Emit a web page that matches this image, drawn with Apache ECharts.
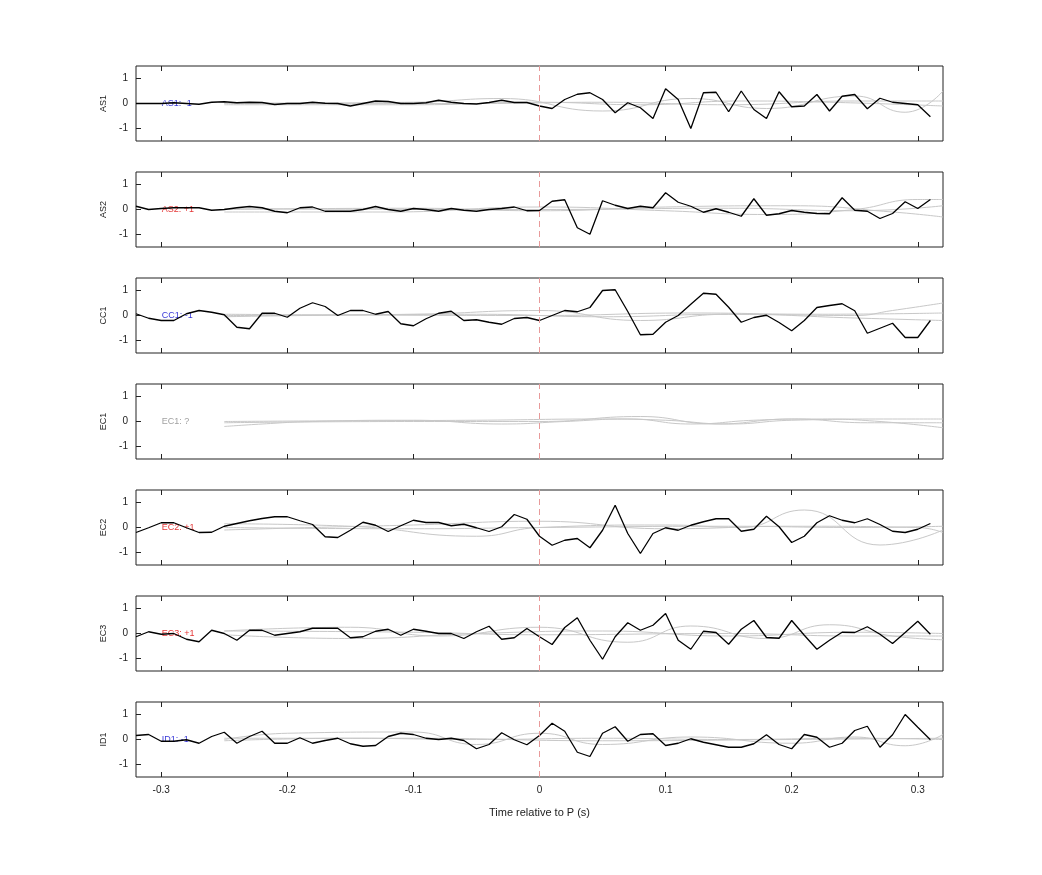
<!DOCTYPE html>
<html lang="en">
<head>
<meta charset="UTF-8" />
<script src="https://cdn.jsdelivr.net/npm/echarts@6.0.0/dist/echarts.min.js"></script>
<title>Stations</title>
<style>
  html, body { margin: 0; background: #fff; }
  #main { width: 1042px; height: 875px; }
</style>
</head>
<body>
<div id="main"></div>
<script>
// station names and polarity picks
var stations = ["AS1", "AS2", "CC1", "EC1", "EC2", "EC3", "ID1"];
var picks = ["AS1: -1", "AS2: +1", "CC1: -1", "EC1: ?", "EC2: +1", "EC3: +1", "ID1: -1"];
var pickColors = ["#0000cc", "#dd0000", "#0000cc", "#888888", "#dd0000", "#dd0000", "#0000cc"];

// sample times, -0.32 .. 0.31 s
var times = [];
for (var i = 0; i < 64; i++) times.push(+(-0.32 + i * 0.01).toFixed(2));

// black traces
var as1 = [0,0,0,0.03,0,-0.03,0.05,0.07,0.03,0.05,0.04,-0.04,0,0,0.05,0.01,0,-0.1,0,0.1,0.08,0,0,0.03,0.13,0.05,0,-0.02,0.04,0.13,0.04,0.04,
  -0.1,-0.2,0.16,0.37,0.43,0.16,-0.37,0.03,-0.17,-0.6,0.59,0.16,-1.0,0.43,0.45,-0.33,0.5,-0.24,-0.6,0.47,-0.13,-0.1,0.36,-0.3,0.29,0.36,-0.21,0.21,0.05,0,-0.05,-0.53];
var as2 = [0.13,0,0.04,0.07,0.07,0.07,-0.03,0,0.07,0.12,0.07,-0.07,-0.13,0.07,0.1,-0.07,-0.07,-0.07,0,0.12,0,-0.07,0.04,0,-0.07,0.04,-0.03,-0.07,0,0.04,0.1,-0.05,
  -0.04,0.33,0.39,-0.73,-0.99,0.35,0.17,0.04,0.13,0.07,0.67,0.29,0.13,-0.11,0.03,-0.11,-0.27,0.43,-0.23,-0.17,-0.04,-0.11,-0.16,-0.17,0.47,-0.03,-0.07,-0.36,-0.16,0.31,0.04,0.4];
var cc1 = [0.07,-0.11,-0.2,-0.2,0.07,0.2,0.13,0.03,-0.47,-0.53,0.09,0.09,-0.07,0.29,0.51,0.36,0,0.2,0.2,0.05,0.16,-0.33,-0.41,-0.13,0.09,0.17,-0.2,-0.17,-0.27,-0.35,-0.12,-0.08,
  -0.2,0,0.2,0.15,0.32,1.0,1.03,0.16,-0.77,-0.75,-0.27,0,0.45,0.89,0.85,0.33,-0.27,-0.08,0.01,-0.28,-0.61,-0.2,0.32,0.4,0.47,0.19,-0.71,-0.51,-0.31,-0.88,-0.88,-0.2];
var ec1 = null;
var ec2 = [-0.2,-0.01,0.19,0.19,-0.01,-0.2,-0.19,0.05,0.16,0.27,0.36,0.43,0.43,0.27,0.12,-0.37,-0.4,-0.11,0.21,0.09,-0.16,0.07,0.29,0.2,0.2,0.07,0.13,-0.01,-0.16,0.03,0.52,0.33,
  -0.35,-0.71,-0.51,-0.44,-0.81,-0.11,0.89,-0.24,-1.04,-0.24,-0.01,-0.11,0.09,0.23,0.35,0.35,-0.15,-0.07,0.45,0.03,-0.6,-0.35,0.19,0.47,0.29,0.19,0.35,0.12,-0.15,-0.2,-0.07,0.16];
var ec3 = [-0.13,0.07,-0.03,0,-0.23,-0.33,0.13,0,-0.27,0.13,0.13,-0.07,0,0.07,0.21,0.21,0.21,-0.17,-0.13,0.09,0.17,-0.07,0.17,0.09,0,0,-0.2,0.07,0.29,-0.23,-0.17,0.2,
  -0.13,-0.44,0.24,0.63,-0.27,-1.03,-0.13,0.43,0.13,0.33,0.8,-0.27,-0.63,0.09,0.04,-0.43,0.17,0.52,-0.16,-0.19,0.52,-0.07,-0.63,-0.27,0.05,0.04,0.27,-0.03,-0.4,0.04,0.49,-0.03];
var id1 = [0.16,0.2,-0.07,-0.07,-0.01,-0.15,0.12,0.29,-0.15,0.12,0.33,-0.15,-0.15,0.07,-0.15,-0.04,0.05,-0.17,-0.27,-0.24,0.12,0.25,0.2,0.05,0,0.05,-0.04,-0.37,-0.2,0.27,-0.01,-0.21,
  0.16,0.65,0.33,-0.51,-0.68,0.25,0.51,-0.07,0.2,0.23,-0.24,-0.15,0.03,-0.11,-0.21,-0.31,-0.31,-0.17,0.19,-0.2,-0.37,0.2,0.09,-0.31,-0.15,0.36,0.53,-0.31,0.19,1.0,0.49,-0.01];
var traces = [as1, as2, cc1, ec1, ec2, ec3, id1];

// grey reference traces, [time, value] read at turning points
var greyAS1 = [
  [[-0.25,0],[-0.1,0.05],[-0.03,0.2],[0.05,-0.3],[0.12,0.2],[0.18,-0.2],[0.25,0.3],[0.29,-0.35],[0.32,0.5]],
  [[-0.25,-0.05],[-0.1,-0.05],[0,0.05],[0.08,-0.05],[0.16,0.1],[0.23,0.05],[0.32,-0.1]],
  [[-0.25,0.02],[-0.05,0],[0.05,0.05],[0.15,-0.05],[0.25,0.1],[0.32,0.1]]];
var greyAS2 = [
  [[-0.25,-0.1],[-0.12,-0.1],[0,0.1],[0.1,-0.05],[0.18,-0.2],[0.25,0],[0.3,0.4],[0.32,0.4]],
  [[-0.25,0],[-0.1,0.05],[0,-0.05],[0.1,0.1],[0.2,0.15],[0.28,-0.1],[0.32,-0.3]],
  [[-0.25,0.03],[0,0],[0.15,0.05],[0.25,-0.05],[0.32,0.15]]];
var greyCC1 = [
  [[-0.25,0],[-0.1,0.05],[0,0.2],[0.08,-0.2],[0.15,0.05],[0.25,0],[0.28,0.2],[0.32,0.5]],
  [[-0.25,-0.05],[-0.05,0.05],[0.05,-0.05],[0.15,0.05],[0.25,-0.1],[0.32,-0.2]],
  [[-0.25,0.05],[0,0],[0.12,0.1],[0.22,0.05],[0.32,0.1]]];
var greyEC1 = [
  [[-0.25,-0.2],[-0.22,-0.1],[-0.18,0],[-0.1,0.05],[-0.03,-0.1],[0.02,0],[0.07,0.1],[0.12,-0.1],[0.17,0.05],[0.22,0.1],[0.27,0],[0.32,-0.25]],
  [[-0.25,0],[-0.15,0.03],[-0.05,0.05],[0.05,0.1],[0.1,0.05],[0.15,-0.1],[0.2,0.05],[0.28,0.1],[0.32,0.1]],
  [[-0.25,-0.05],[-0.1,0],[0,0],[0.08,0.2],[0.14,-0.1],[0.2,0.1],[0.26,-0.05],[0.32,-0.05]]];
var greyEC2 = [
  [[-0.25,0.15],[-0.15,0.05],[-0.05,-0.35],[0,0],[0.1,0.1],[0.16,0],[0.21,0.7],[0.27,-0.7],[0.32,-0.1]],
  [[-0.25,-0.1],[-0.18,0],[-0.1,0.1],[0,0.25],[0.1,-0.05],[0.2,0.05],[0.3,0],[0.32,-0.2]],
  [[-0.25,0],[-0.1,-0.05],[0,0],[0.15,0.05],[0.25,0],[0.32,0.05]]];
var greyEC3 = [
  [[-0.25,0.1],[-0.15,0.25],[-0.08,-0.1],[0,0.25],[0.07,-0.35],[0.12,0.3],[0.18,-0.2],[0.23,0.35],[0.28,-0.1],[0.32,-0.25]],
  [[-0.25,-0.05],[-0.15,-0.2],[-0.05,0],[0.05,0.1],[0.15,-0.1],[0.25,0.05],[0.32,0]],
  [[-0.25,0.1],[-0.1,0.05],[0,-0.05],[0.15,0],[0.25,-0.1],[0.32,-0.1]]];
var greyID1 = [
  [[-0.25,0],[-0.2,0.25],[-0.1,0.3],[-0.05,-0.2],[0,0.25],[0.05,-0.2],[0.12,0.1],[0.2,-0.15],[0.25,0.1],[0.29,-0.25],[0.32,0.2]],
  [[-0.25,-0.05],[-0.15,0.05],[-0.05,0],[0.05,0.05],[0.15,0],[0.25,0.05],[0.32,0]],
  [[-0.25,0.05],[-0.1,0.05],[0.05,-0.05],[0.2,0],[0.32,0.05]]];
var greys = [greyAS1, greyAS2, greyCC1, greyEC1, greyEC2, greyEC3, greyID1];

var xTicks = [-0.3, -0.2, -0.1, 0, 0.1, 0.2, 0.3];
var yTicks = [-1, 0, 1];

var chart = echarts.init(document.getElementById("main"));
var grids = [], xAxes = [], yAxes = [], series = [];
var font = "Liberation Sans";

stations.forEach(function (name, k) {
    var last = k === stations.length - 1;
    grids.push({ left: 136, right: 99, top: 66 + 106 * k, height: 75,
        show: true, borderColor: "#222", borderWidth: 1 });
    ["bottom", "top"].forEach(function (pos) {
        xAxes.push({
            type: "value", gridIndex: k, position: pos, min: -0.32, max: 0.32,
            axisLine: { show: false, onZero: false }, splitLine: { show: false },
            axisTick: { inside: true, length: 5, customValues: xTicks, lineStyle: { color: "#222" } },
            axisLabel: { show: last && pos === "bottom", customValues: xTicks, color: "#222",
                fontSize: 10, fontFamily: font, margin: 8 },
            name: last && pos === "bottom" ? "Time relative to P (s)" : "",
            nameLocation: "middle", nameGap: 30,
            nameTextStyle: { color: "#222", fontSize: 11, fontFamily: font }
        });
    });
    yAxes.push({
        type: "value", gridIndex: k, min: -1.5, max: 1.5, position: "left",
        axisLine: { show: false, onZero: false }, splitLine: { show: false },
        axisTick: { inside: true, length: 5, customValues: yTicks, lineStyle: { color: "#222" } },
        axisLabel: { customValues: yTicks, color: "#222", fontSize: 10, fontFamily: font, margin: 8 },
        name: name, nameLocation: "middle", nameGap: 28, nameRotate: 90,
        nameTextStyle: { color: "#222", fontSize: 9, fontFamily: font }
    });
    // pick label goes under the traces
    series.push({
        type: "scatter", xAxisIndex: 2 * k, yAxisIndex: k, silent: true, z: 1,
        symbolSize: 1, itemStyle: { color: "rgba(0,0,0,0)" },
        data: [[-0.3, 0]],
        label: { show: true, formatter: picks[k], color: pickColors[k], fontSize: 9,
            fontFamily: font, position: "right", distance: 0 }
    });
    greys[k].forEach(function (g) {
        series.push({ type: "line", xAxisIndex: 2 * k, yAxisIndex: k, data: g, smooth: 0.5,
            showSymbol: false, silent: true, z: 2, lineStyle: { color: "#c8c8c8", width: 1 } });
    });
    var black = traces[k];
    series.push({
        type: "line", xAxisIndex: 2 * k, yAxisIndex: k, showSymbol: false, silent: true, z: 3,
        data: black ? times.map(function (t, i) { return [t, black[i]]; }) : [],
        lineStyle: { color: "#000", width: 1.3 },
        markLine: { symbol: "none", silent: true, label: { show: false },
            lineStyle: { color: "#e89a9a", type: [6, 4], width: 1 }, data: [{ xAxis: 0 }] }
    });
});

chart.setOption({
    animation: false,
    backgroundColor: "#fff",
    grid: grids, xAxis: xAxes, yAxis: yAxes, series: series
});
</script>
</body>
</html>
